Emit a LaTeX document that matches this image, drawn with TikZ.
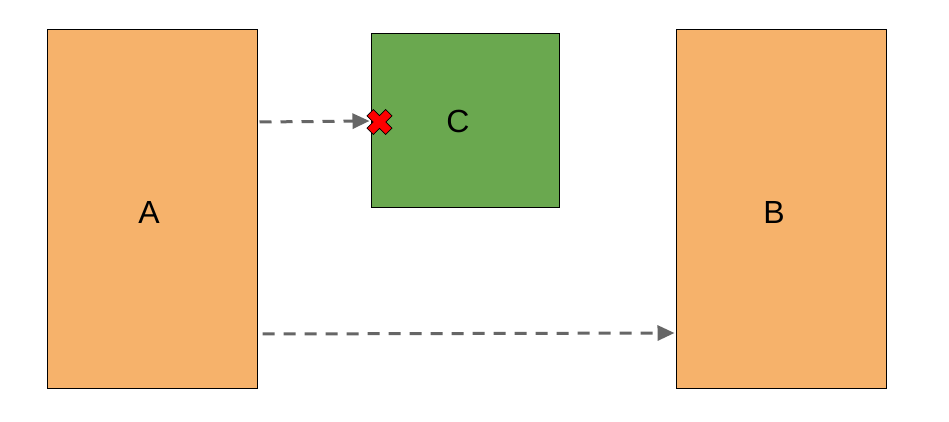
\documentclass[tikz,border=0pt]{standalone}
\usepackage{fontspec}
\setmainfont{Liberation Sans}
\usetikzlibrary{arrows.meta}
\definecolor{boxorange}{HTML}{F6B26B}
\definecolor{boxgreen}{HTML}{6AA84F}
\definecolor{arrowgray}{HTML}{666666}
\definecolor{xred}{HTML}{FF0000}
\begin{document}
\begin{tikzpicture}[x=1pt,y=1pt,
  box/.style={draw=black,line width=1pt,inner sep=0pt},
  lbl/.style={font=\fontsize{32}{38}\selectfont,inner sep=0pt},
  conn/.style={draw=arrowgray,line width=3pt,dash pattern=on 12pt off 9pt,
    -{Triangle[length=17pt,width=15pt]}}]
\useasboundingbox (0,0) rectangle (949,422);
\fill[white] (0,0) rectangle (949,422);
\node[box,fill=boxorange,minimum width=210pt,minimum height=359pt] (A) at (152,212.5) {};
\node[box,fill=boxgreen,minimum width=188pt,minimum height=174pt] (C) at (465,301) {};
\node[box,fill=boxorange,minimum width=210pt,minimum height=359pt] (B) at (781,212.5) {};
\node[lbl] (LA) at (149,210) {A};
\node[lbl] (LC) at (458,301) {C};
\node[lbl] (LB) at (774,210) {B};
\coordinate (s1) at ([xshift=2pt]A.east |- 0,300);
\coordinate (e1) at ([xshift=-1pt]C.west |- 0,301);
\coordinate (s2) at ([xshift=5pt]A.east |- 0,88);
\coordinate (e2) at ([xshift=-1pt]B.west |- 0,89);
\draw[conn] (s1) -- (e1);
\draw[conn] (s2) -- (e2);
\coordinate (X) at (379.5,300);
\filldraw[fill=xred,draw=black,line width=0.8pt,shift={(X)},rotate=45]
  (4.5,4.5) -- (13.2,4.5) -- (13.2,-4.5) -- (4.5,-4.5) -- (4.5,-13.2) -- (-4.5,-13.2)
  -- (-4.5,-4.5) -- (-13.2,-4.5) -- (-13.2,4.5) -- (-4.5,4.5) -- (-4.5,13.2) -- (4.5,13.2) -- cycle;
\end{tikzpicture}
\end{document}
